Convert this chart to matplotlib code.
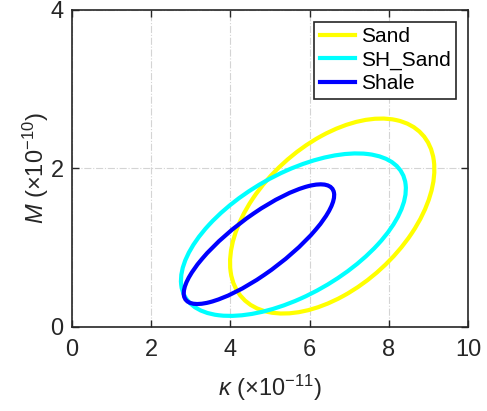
import numpy as np
import matplotlib
matplotlib.use("Agg")
import matplotlib.pyplot as plt
from matplotlib.patches import Ellipse

plt.rcParams["font.family"] = ["Liberation Sans", "DejaVu Sans"]
plt.rcParams["mathtext.fontset"] = "custom"
plt.rcParams["mathtext.rm"] = "Liberation Sans"
plt.rcParams["mathtext.it"] = "Liberation Sans:italic"

# confidence ellipses: centre, half-extent along each axis, correlation
labels = ["Sand", "SH_Sand", "Shale"]
colors = ["#ffff00", "#00ffff", "#0000ff"]
center_x = [6.57, 5.59, 4.72]
center_y = [1.40, 1.165, 1.045]
half_x = [2.58, 2.84, 1.90]
half_y = [1.23, 1.025, 0.755]
rho = [0.48, 0.565, 0.82]

xticks = [0, 2, 4, 6, 8, 10]
yticks = [0, 2, 4]


def ellipse_patch(cx, cy, hx, hy, r, color, label):
    cov = np.array([[hx ** 2, r * hx * hy], [r * hx * hy, hy ** 2]])
    vals, vecs = np.linalg.eigh(cov)
    order = vals.argsort()[::-1]
    vals, vecs = vals[order], vecs[:, order]
    angle = np.degrees(np.arctan2(vecs[1, 0], vecs[0, 0]))
    return Ellipse((cx, cy), 2 * np.sqrt(vals[0]), 2 * np.sqrt(vals[1]),
                   angle=angle, fill=False, edgecolor=color, linewidth=3,
                   label=label)


fig = plt.figure(figsize=(4.87, 4.11), dpi=100)
ax = fig.add_axes([0.148, 0.2044, 0.813, 0.7713])

handles = []
for i in range(len(labels)):
    p = ellipse_patch(center_x[i], center_y[i], half_x[i], half_y[i], rho[i],
                      colors[i], labels[i])
    ax.add_patch(p)
    handles.append(plt.Line2D([], [], color=colors[i], lw=3, label=labels[i]))

ax.set_xlim(0, 10)
ax.set_ylim(0, 4)
ax.set_xticks(xticks)
ax.set_yticks(yticks)
ax.grid(True, color="#d4d4d4", linestyle="-.", linewidth=0.8)
ax.set_axisbelow(True)

ax.tick_params(direction="in", top=True, right=True, length=5, width=1,
               labelsize=17, colors="#262626")
ax.tick_params(axis="x", pad=9)
ax.tick_params(axis="y", pad=6)
for s in ax.spines.values():
    s.set_color("#262626")
    s.set_linewidth(1.2)

ax.set_xlabel(r"$\kappa$ ($\times$10$^{-11}$)", fontsize=17, color="#262626",
              labelpad=8)
ax.set_ylabel(r"$M$ ($\times$10$^{-10}$)", fontsize=17, color="#262626",
              labelpad=0)

leg = ax.legend(handles=handles, loc="upper right", bbox_to_anchor=(0.97, 0.963),
                borderaxespad=0, fontsize=15, handlelength=1.7,
                handletextpad=0.3, labelspacing=0.22, borderpad=0.25,
                fancybox=False, framealpha=1)
leg.get_frame().set_edgecolor("#262626")
leg.get_frame().set_linewidth(1.2)

fig.savefig("out.png", dpi=100)
